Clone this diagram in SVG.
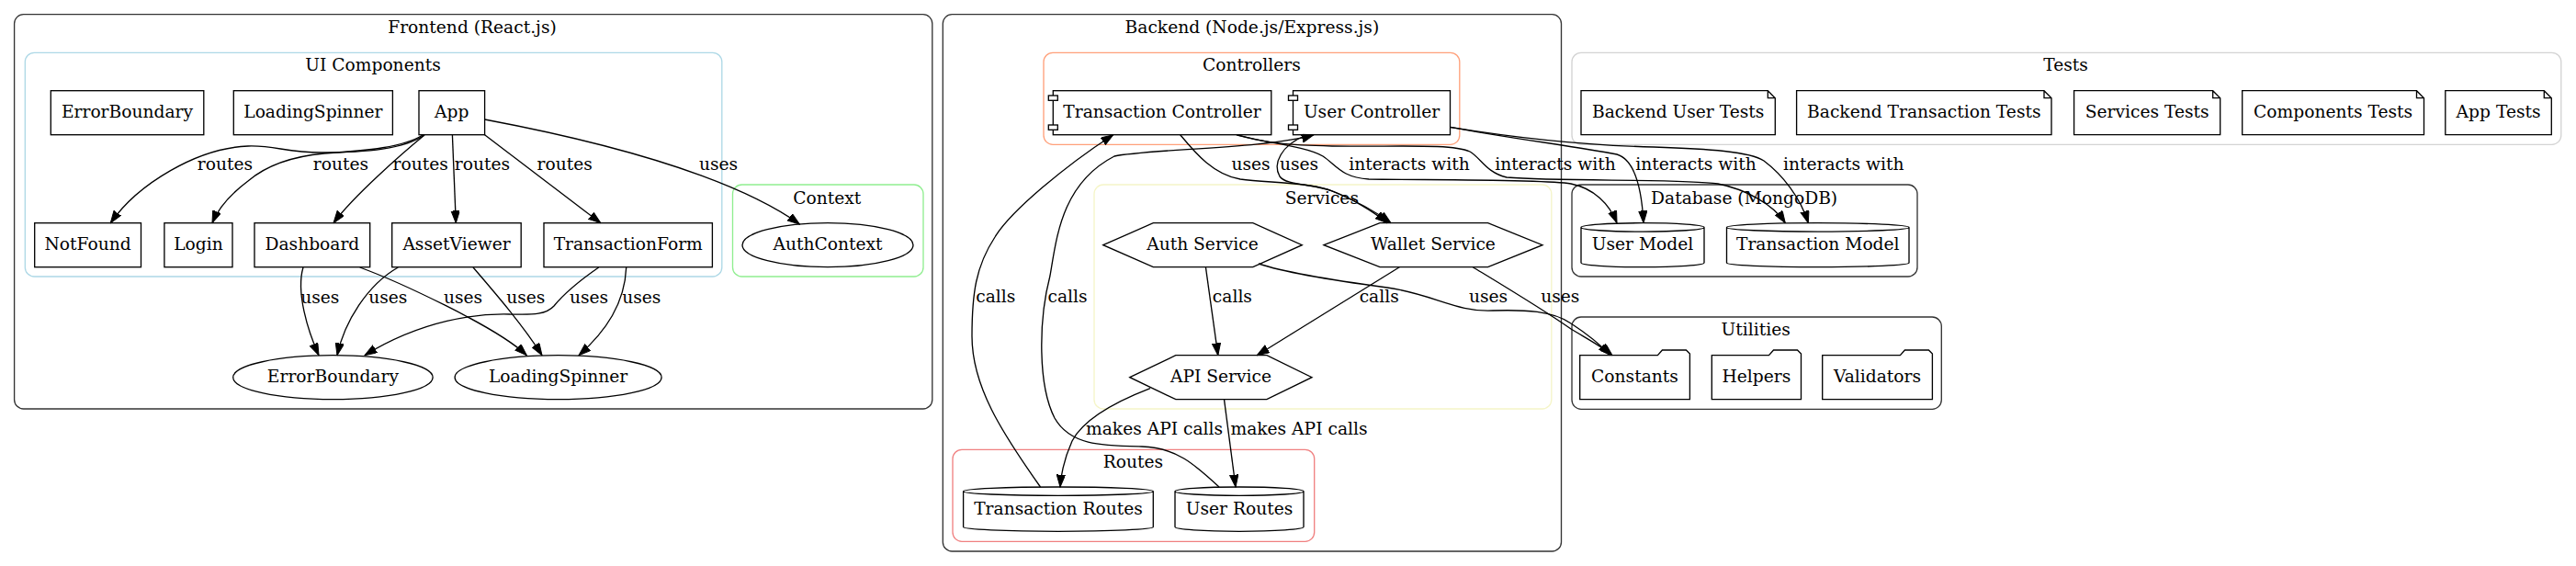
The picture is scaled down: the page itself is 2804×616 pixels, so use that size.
<svg xmlns="http://www.w3.org/2000/svg" width="2804" height="616" viewBox="0 0 2804 616">
<style>
.t{font-family:"DejaVu Serif","Liberation Serif",serif;font-size:18.67px;text-anchor:middle;fill:#000}
.cl{fill:none;stroke:#333;stroke-width:1.33}
.n{fill:#fff;stroke:#000;stroke-width:1.33}
.e{fill:none;stroke:#000;stroke-width:1.33;marker-end:url(#arr)}
</style>
<defs>
<marker id="arr" markerWidth="14" markerHeight="10" viewBox="0 0 14 10" refX="13.3" refY="4.67" orient="auto" markerUnits="userSpaceOnUse"><path d="M0,0 L13.3,4.67 L0,9.33 z" fill="#000" stroke="#000" stroke-width="1"/></marker>
</defs>
<rect width="2804" height="616" fill="#fff"/>
<g id="clusters">
<rect class="cl" x="15.6" y="15.7" width="999.2" height="429.3" rx="10"/>
<text class="t" x="514" y="36">Frontend (React.js)</text>
<rect class="cl" x="27.3" y="57.3" width="758.5" height="243.7" rx="10" style="stroke:#add8e6"/>
<text class="t" x="406" y="77">UI Components</text>
<rect class="cl" x="797.5" y="201" width="207.5" height="100" rx="10" style="stroke:#90ee90"/>
<text class="t" x="900.3" y="221.7">Context</text>
<rect class="cl" x="1026.3" y="15.7" width="673.2" height="584.3" rx="10"/>
<text class="t" x="1362.9" y="36">Backend (Node.js/Express.js)</text>
<rect class="cl" x="1136" y="57.3" width="452.8" height="100" rx="10" style="stroke:#ffa07a"/>
<text class="t" x="1362.4" y="77">Controllers</text>
<rect class="cl" x="1191" y="201" width="497.8" height="244" rx="10" style="stroke:#f5f5c8"/>
<text class="t" x="1438.8" y="221.7">Services</text>
<rect class="cl" x="1037" y="489.3" width="393.7" height="100" rx="10" style="stroke:#f08080"/>
<text class="t" x="1233.4" y="509.3">Routes</text>
<rect class="cl" x="1711" y="57.3" width="1076.8" height="100" rx="10" style="stroke:#d3d3d3"/>
<text class="t" x="2248.5" y="77">Tests</text>
<rect class="cl" x="1711" y="201" width="376" height="100" rx="10"/>
<text class="t" x="1898.6" y="221.7">Database (MongoDB)</text>
<rect class="cl" x="1711" y="345" width="402.3" height="100.3" rx="10"/>
<text class="t" x="1911.2" y="365">Utilities</text>
</g>
<g id="node-ErrorBoundaryBox"><rect class="n" x="55.3" y="98.7" width="166.5" height="48"/><text class="t" x="138.5" y="128.3">ErrorBoundary</text></g>
<g id="node-LoadingSpinnerBox"><rect class="n" x="254.3" y="98.7" width="173.1" height="48"/><text class="t" x="340.9" y="128.3">LoadingSpinner</text></g>
<g id="node-App"><rect class="n" x="456" y="98.7" width="71.6" height="48"/><text class="t" x="491.8" y="128.3">App</text></g>
<g id="node-NotFound"><rect class="n" x="37.7" y="242.7" width="115.8" height="48"/><text class="t" x="95.6" y="272.3">NotFound</text></g>
<g id="node-Login"><rect class="n" x="178.9" y="242.7" width="74.1" height="48"/><text class="t" x="216" y="272.3">Login</text></g>
<g id="node-Dashboard"><rect class="n" x="277" y="242.7" width="125.7" height="48"/><text class="t" x="339.9" y="272.3">Dashboard</text></g>
<g id="node-AssetViewer"><rect class="n" x="426.7" y="242.7" width="140.5" height="48"/><text class="t" x="497" y="272.3">AssetViewer</text></g>
<g id="node-TransactionForm"><rect class="n" x="592" y="242.7" width="183.4" height="48"/><text class="t" x="683.7" y="272.3">TransactionForm</text></g>
<g id="node-AuthContext"><ellipse class="n" cx="901" cy="266.7" rx="93" ry="24"/><text class="t" x="901" y="272.3">AuthContext</text></g>
<g id="node-ErrorBoundary"><ellipse class="n" cx="362.4" cy="410.7" rx="108.7" ry="24"/><text class="t" x="362.4" y="416.3">ErrorBoundary</text></g>
<g id="node-LoadingSpinner"><ellipse class="n" cx="607.6" cy="410.7" rx="112.5" ry="24"/><text class="t" x="607.6" y="416.3">LoadingSpinner</text></g>
<g id="node-TransactionController"><rect class="n" x="1146.3" y="98.7" width="237.5" height="48"/><rect class="n" x="1141.3" y="104" width="10" height="5.3"/><rect class="n" x="1141.3" y="136" width="10" height="5.3"/><text class="t" x="1265" y="128.3">Transaction Controller</text></g>
<g id="node-UserController"><rect class="n" x="1407.5" y="98.7" width="171" height="48"/><rect class="n" x="1402.5" y="104" width="10" height="5.3"/><rect class="n" x="1402.5" y="136" width="10" height="5.3"/><text class="t" x="1493" y="128.3">User Controller</text></g>
<g id="node-AuthService"><polygon class="n" points="1200.8,266.7 1255.3,242.7 1363.8,242.7 1417.3,266.7 1363.8,290.7 1255.3,290.7"/><text class="t" x="1309" y="272.3">Auth Service</text></g>
<g id="node-WalletService"><polygon class="n" points="1441,266.7 1502,242.7 1619.6,242.7 1679,266.7 1619.6,290.7 1502,290.7"/><text class="t" x="1560" y="272.3">Wallet Service</text></g>
<g id="node-APIService"><polygon class="n" points="1229.8,410.7 1279.8,386.7 1378.9,386.7 1428,410.7 1378.9,434.7 1279.8,434.7"/><text class="t" x="1329" y="416.3">API Service</text></g>
<g id="node-TransactionRoutes"><path class="n" d="M1048.6,534.7 A103.35,4.7 0 0 1 1255.3,534.7 L1255.3,573.6 A103.35,4.7 0 0 1 1048.6,573.6 Z M1048.6,534.7 A103.35,4.7 0 0 0 1255.3,534.7"/><text class="t" x="1152" y="560">Transaction Routes</text></g>
<g id="node-UserRoutes"><path class="n" d="M1279,534.7 A70,4.7 0 0 1 1419,534.7 L1419,573.6 A70,4.7 0 0 1 1279,573.6 Z M1279,534.7 A70,4.7 0 0 0 1419,534.7"/><text class="t" x="1349" y="560">User Routes</text></g>
<g id="node-UserModel"><path class="n" d="M1721,247.4 A67,4.7 0 0 1 1855,247.4 L1855,286 A67,4.7 0 0 1 1721,286 Z M1721,247.4 A67,4.7 0 0 0 1855,247.4"/><text class="t" x="1788" y="272.3">User Model</text></g>
<g id="node-TransactionModel"><path class="n" d="M1879.5,247.4 A99.25,4.7 0 0 1 2078,247.4 L2078,286 A99.25,4.7 0 0 1 1879.5,286 Z M1879.5,247.4 A99.25,4.7 0 0 0 2078,247.4"/><text class="t" x="1978.8" y="272.3">Transaction Model</text></g>
<g id="node-BackendUserTests"><path class="n" d="M1721,98.7 L1924.3,98.7 L1932.3,106.7 L1932.3,146.7 L1721,146.7 Z M1924.3,98.7 L1924.3,106.7 L1932.3,106.7"/><text class="t" x="1826.7" y="128.3">Backend User Tests</text></g>
<g id="node-BackendTransactionTests"><path class="n" d="M1955.6,98.7 L2225,98.7 L2233,106.7 L2233,146.7 L1955.6,146.7 Z M2225,98.7 L2225,106.7 L2233,106.7"/><text class="t" x="2094.3" y="128.3">Backend Transaction Tests</text></g>
<g id="node-ServicesTests"><path class="n" d="M2257.6,98.7 L2408.7,98.7 L2416.7,106.7 L2416.7,146.7 L2257.6,146.7 Z M2408.7,98.7 L2408.7,106.7 L2416.7,106.7"/><text class="t" x="2337.2" y="128.3">Services Tests</text></g>
<g id="node-ComponentsTests"><path class="n" d="M2440.7,98.7 L2630.5,98.7 L2638.5,106.7 L2638.5,146.7 L2440.7,146.7 Z M2630.5,98.7 L2630.5,106.7 L2638.5,106.7"/><text class="t" x="2539.6" y="128.3">Components Tests</text></g>
<g id="node-AppTests"><path class="n" d="M2661.8,98.7 L2769.3,98.7 L2777.3,106.7 L2777.3,146.7 L2661.8,146.7 Z M2769.3,98.7 L2769.3,106.7 L2777.3,106.7"/><text class="t" x="2719.6" y="128.3">App Tests</text></g>
<g id="node-Constants"><path class="n" d="M1719.7,386.7 L1804.4,386.7 L1809.4,381 L1835.4,381 L1839.4,385 L1839.4,434.7 L1719.7,434.7 Z"/><text class="t" x="1779.5" y="416.3">Constants</text></g>
<g id="node-Helpers"><path class="n" d="M1863.3,386.7 L1925.5,386.7 L1930.5,381 L1956.5,381 L1960.5,385 L1960.5,434.7 L1863.3,434.7 Z"/><text class="t" x="1911.9" y="416.3">Helpers</text></g>
<g id="node-Validators"><path class="n" d="M1983.7,386.7 L2068.4,386.7 L2073.4,381 L2099.4,381 L2103.4,385 L2103.4,434.7 L1983.7,434.7 Z"/><text class="t" x="2043.5" y="416.3">Validators</text></g>
<g id="connectors">
<path class="e" d="M462,147 C440,162 400,166 350,166 C310,166 300,158 270,159 C215,161 150,200 120.3,242.7"/>
<path class="e" d="M460,147 C440,160 400,164 353,167 C320,170 290,180 270,197 C250,212 237,228 231,242.7"/>
<path class="e" d="M462,147 C440,165 385,213 363,242.7"/>
<path class="e" d="M492.4,146.7 L496.3,242.7"/>
<path class="e" d="M527.6,146.7 L653.8,242.7"/>
<path class="e" d="M527.6,130 C740,170 830,215 870.4,244"/>
<path class="e" d="M330,291 C322,318 335,360 347,386.7"/>
<path class="e" d="M433.3,291 C400,310 375,350 367,386.7"/>
<path class="e" d="M391.7,291 C430,305 540,355 573.3,386.7"/>
<path class="e" d="M515,291 C540,320 570,355 590,386.7"/>
<path class="e" d="M651.7,291 C630,306 612,322 603,333 C593,344 575,342 555,342 C520,341 460,348 397,386.7"/>
<path class="e" d="M681.7,291 C680,330 660,360 630,386.7"/>
<path class="e" d="M1132.5,530 C1090,470 1058,420 1058,366 C1058,320 1062,290 1083,258 C1100,230 1160,180 1211.7,146.7"/>
<path class="e" d="M1327,530 C1300,505 1280,487 1243,486 C1200,485 1165,485 1148,455 C1130,420 1130,350 1143,300 C1150,260 1155,200 1213,170 C1250,162 1380,162 1430,146.7"/>
<path class="e" d="M1284.7,146.7 C1300,165 1320,190 1350,195 C1380,199 1420,198 1446.7,206.7 C1470,215 1495,230 1510,242.7"/>
<path class="e" d="M1420,148 C1395,158 1385,178 1393,192 C1400,202 1430,200 1450,208 C1475,218 1497,230 1514,242.7"/>
<path class="e" d="M1346,146.7 C1370,155 1420,158 1440,170 C1455,180 1460,193 1490,195 C1550,196 1680,195 1710,200 C1735,205 1752,222 1760,242.7"/>
<path class="e" d="M1346,146.7 C1380,156 1400,158 1450,159 C1520,160 1580,156 1600,165 C1612,172 1618,188 1640,193 C1700,198 1830,194 1870,200 C1900,206 1930,222 1943.3,242.7"/>
<path class="e" d="M1578.3,138.3 C1640,150 1720,160 1760,168 C1780,174 1787,205 1789,242.7"/>
<path class="e" d="M1578.3,138.3 C1650,150 1720,158 1800,160 C1860,162 1905,165 1920,175 C1940,190 1960,215 1968.3,242.7"/>
<path class="e" d="M1312.4,290.7 L1325.8,386.7"/>
<path class="e" d="M1523.3,290.7 L1368.2,386.7"/>
<path class="e" d="M1370,287 C1400,297 1450,305 1510,313 C1560,320 1585,340 1625,338 C1660,337 1690,338 1710,352 C1730,365 1742,375 1753,386.7"/>
<path class="e" d="M1603.3,290.7 C1640,313 1680,337 1710,358 C1730,370 1745,378 1755,386.7"/>
<path class="e" d="M1252,422.7 C1215,437 1180,455 1167,480 C1158,500 1155,515 1154,530"/>
<path class="e" d="M1332.5,434.7 L1345,530"/>
<text class="t" x="245" y="185">routes</text>
<text class="t" x="371" y="185">routes</text>
<text class="t" x="457.7" y="185">routes</text>
<text class="t" x="525" y="185">routes</text>
<text class="t" x="614.7" y="185">routes</text>
<text class="t" x="782" y="185">uses</text>
<text class="t" x="348.3" y="330">uses</text>
<text class="t" x="422.3" y="330">uses</text>
<text class="t" x="504" y="330">uses</text>
<text class="t" x="572.3" y="330">uses</text>
<text class="t" x="641" y="330">uses</text>
<text class="t" x="698.3" y="330">uses</text>
<text class="t" x="1361.5" y="185">uses</text>
<text class="t" x="1414" y="185">uses</text>
<text class="t" x="1534" y="185">interacts with</text>
<text class="t" x="1693" y="185">interacts with</text>
<text class="t" x="1846" y="185">interacts with</text>
<text class="t" x="2006.7" y="185">interacts with</text>
<text class="t" x="1083.8" y="329">calls</text>
<text class="t" x="1162" y="329">calls</text>
<text class="t" x="1341.4" y="329">calls</text>
<text class="t" x="1501.2" y="329">calls</text>
<text class="t" x="1620" y="329">uses</text>
<text class="t" x="1698.3" y="329">uses</text>
<text class="t" x="1256.6" y="473">makes API calls</text>
<text class="t" x="1414" y="473">makes API calls</text>
</g>
</svg>
